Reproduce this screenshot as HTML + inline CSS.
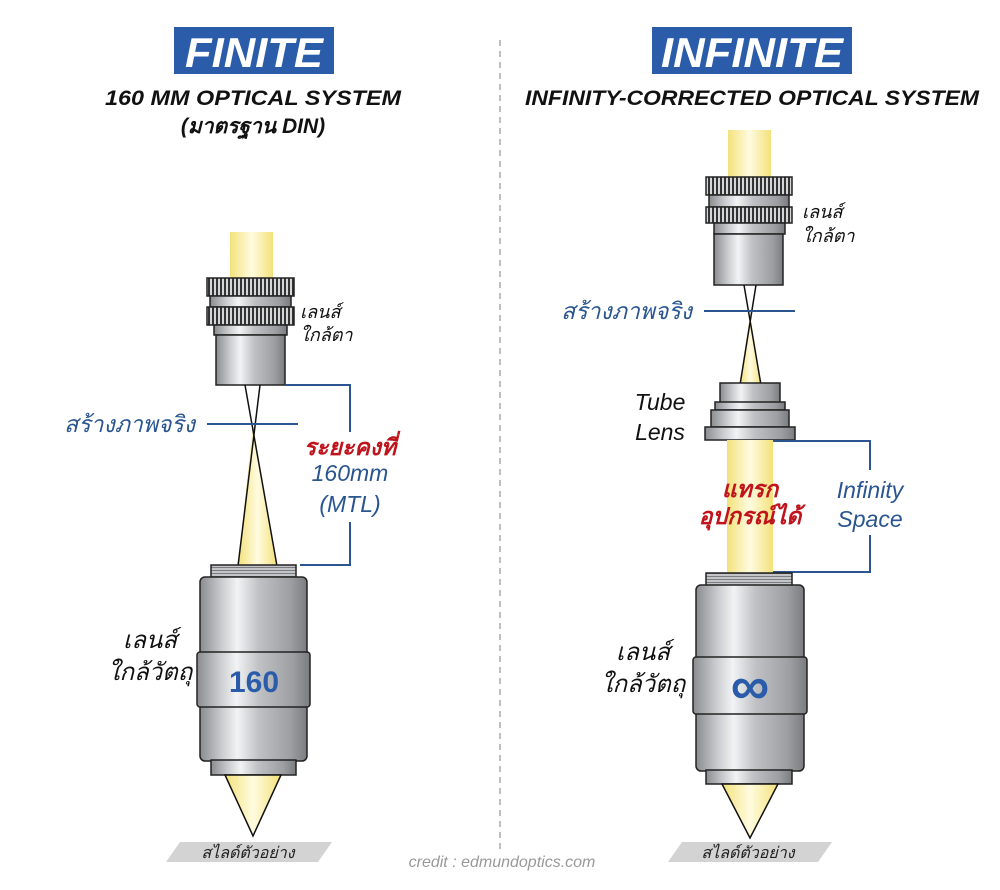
<!DOCTYPE html>
<html><head><meta charset="utf-8"><style>
html,body{margin:0;padding:0;background:#fff;}
svg{display:block;}
text{font-family:"Liberation Sans","DejaVu Sans",sans-serif;}
</style></head><body>
<svg width="1000" height="890" viewBox="0 0 1000 890" xmlns="http://www.w3.org/2000/svg">
<defs>
<linearGradient id="metal" x1="0" x2="1" y1="0" y2="0">
<stop offset="0" stop-color="#8a8c90"/><stop offset="0.2" stop-color="#c9cbce"/><stop offset="0.35" stop-color="#f2f3f4"/><stop offset="0.55" stop-color="#bfc1c4"/><stop offset="0.85" stop-color="#9c9ea2"/><stop offset="1" stop-color="#7a7c80"/>
</linearGradient>
<linearGradient id="beam" x1="0" x2="1" y1="0" y2="0">
<stop offset="0" stop-color="#f3e27a"/><stop offset="0.5" stop-color="#fffbe0"/><stop offset="1" stop-color="#f3e27a"/>
</linearGradient>
<pattern id="knurl" width="4" height="10" patternUnits="userSpaceOnUse">
<rect width="4" height="10" fill="#d5d6d8"/><rect width="2" height="10" fill="#333"/>
</pattern>
<pattern id="thread" width="10" height="3" patternUnits="userSpaceOnUse">
<rect width="10" height="3" fill="#c4c5c8"/><rect width="10" height="1" fill="#7a7c80"/>
</pattern>
</defs>

<line x1="500" y1="40" x2="500" y2="850" stroke="#aaa" stroke-width="1.5" stroke-dasharray="6,5"/>

<rect x="174" y="27" width="160" height="47" fill="#2a5caa"/>
<text x="254" y="67" text-anchor="middle" font-size="42" font-weight="bold" font-style="italic" fill="#fff" textLength="138" lengthAdjust="spacingAndGlyphs">FINITE</text>
<text x="253" y="105" text-anchor="middle" font-size="21" font-weight="bold" font-style="italic" fill="#111" textLength="296" lengthAdjust="spacingAndGlyphs">160 MM OPTICAL SYSTEM</text>
<text x="253" y="133" text-anchor="middle" font-size="21" font-weight="bold" font-style="italic" fill="#111">(มาตรฐาน DIN)</text>

<rect x="652" y="27" width="200" height="47" fill="#2a5caa"/>
<text x="752" y="67" text-anchor="middle" font-size="42" font-weight="bold" font-style="italic" fill="#fff" textLength="182" lengthAdjust="spacingAndGlyphs">INFINITE</text>
<text x="752" y="105" text-anchor="middle" font-size="21" font-weight="bold" font-style="italic" fill="#111" textLength="454" lengthAdjust="spacingAndGlyphs">INFINITY-CORRECTED OPTICAL SYSTEM</text>

<!-- LEFT -->
<rect x="230" y="232" width="43" height="48" fill="url(#beam)"/>
<rect x="207" y="278" width="87" height="18" fill="url(#knurl)" stroke="#222" stroke-width="1.5"/>
<rect x="210" y="296" width="81" height="11" fill="url(#metal)" stroke="#222" stroke-width="1.5"/>
<rect x="207" y="307" width="87" height="18" fill="url(#knurl)" stroke="#222" stroke-width="1.5"/>
<rect x="214" y="325" width="73" height="10" fill="url(#metal)" stroke="#222" stroke-width="1.5"/>
<rect x="216" y="335" width="69" height="50" fill="url(#metal)" stroke="#222" stroke-width="1.5"/>
<polygon points="253,422 238,566 277,566" fill="url(#beam)"/>
<line x1="245" y1="385" x2="277" y2="566" stroke="#111" stroke-width="1.5"/>
<line x1="260" y1="385" x2="238" y2="566" stroke="#111" stroke-width="1.5"/>
<line x1="207" y1="424" x2="298" y2="424" stroke="#2a5590" stroke-width="2"/>
<text x="195" y="432" text-anchor="end" font-size="23" font-style="italic" fill="#2a5590">สร้างภาพจริง</text>
<text x="300" y="318" font-size="18" font-style="italic" fill="#111">เลนส์</text>
<text x="300" y="341" font-size="18" font-style="italic" fill="#111">ใกล้ตา</text>
<polyline points="285,385 350,385 350,432" fill="none" stroke="#2a5590" stroke-width="2"/>
<polyline points="350,522 350,565 300,565" fill="none" stroke="#2a5590" stroke-width="2"/>
<text x="350" y="455" text-anchor="middle" font-size="23" font-weight="bold" font-style="italic" fill="#c0141c">ระยะคงที่</text>
<text x="350" y="481" text-anchor="middle" font-size="23" font-style="italic" fill="#2a5590">160mm</text>
<text x="350" y="512" text-anchor="middle" font-size="23" font-style="italic" fill="#2a5590">(MTL)</text>

<rect x="211" y="565" width="85" height="13" fill="url(#thread)" stroke="#222" stroke-width="1.5"/>
<rect x="200" y="577" width="107" height="184" rx="5" fill="url(#metal)" stroke="#222" stroke-width="1.5"/>
<rect x="197" y="652" width="113" height="55" rx="3" fill="url(#metal)" stroke="#222" stroke-width="1.5"/>
<text x="254" y="692" text-anchor="middle" font-size="30" font-weight="bold" fill="#2a5caa">160</text>
<rect x="211" y="760" width="85" height="15" fill="url(#metal)" stroke="#222" stroke-width="1.5"/>
<polygon points="225,775 281,775 253,836" fill="url(#beam)" stroke="#111" stroke-width="1.5"/>
<text x="150" y="648" text-anchor="middle" font-size="24" font-style="italic" fill="#111">เลนส์</text>
<text x="150" y="680" text-anchor="middle" font-size="24" font-style="italic" fill="#111">ใกล้วัตถุ</text>
<polygon points="180,842 332,842 318,862 166,862" fill="#d3d3d3"/>
<text x="248" y="858" text-anchor="middle" font-size="16" font-style="italic" fill="#222">สไลด์ตัวอย่าง</text>

<!-- RIGHT -->
<rect x="728" y="130" width="43" height="48" fill="url(#beam)"/>
<rect x="706" y="177" width="86" height="18" fill="url(#knurl)" stroke="#222" stroke-width="1.5"/>
<rect x="709" y="195" width="80" height="12" fill="url(#metal)" stroke="#222" stroke-width="1.5"/>
<rect x="706" y="207" width="86" height="16" fill="url(#knurl)" stroke="#222" stroke-width="1.5"/>
<rect x="714" y="223" width="71" height="11" fill="url(#metal)" stroke="#222" stroke-width="1.5"/>
<rect x="714" y="234" width="69" height="51" fill="url(#metal)" stroke="#222" stroke-width="1.5"/>
<polygon points="750,311 740,385 761,385" fill="url(#beam)"/>
<line x1="744" y1="285" x2="761" y2="385" stroke="#111" stroke-width="1.5"/>
<line x1="756" y1="285" x2="740" y2="385" stroke="#111" stroke-width="1.5"/>
<line x1="704" y1="311" x2="795" y2="311" stroke="#2a5590" stroke-width="2"/>
<text x="692" y="319" text-anchor="end" font-size="23" font-style="italic" fill="#2a5590">สร้างภาพจริง</text>
<text x="802" y="218" font-size="18" font-style="italic" fill="#111">เลนส์</text>
<text x="802" y="242" font-size="18" font-style="italic" fill="#111">ใกล้ตา</text>

<rect x="720" y="383" width="60" height="20" fill="url(#metal)" stroke="#222" stroke-width="1.5"/>
<rect x="715" y="402" width="70" height="8" fill="url(#metal)" stroke="#222" stroke-width="1.5"/>
<rect x="711" y="410" width="78" height="17" fill="url(#metal)" stroke="#222" stroke-width="1.5"/>
<rect x="705" y="427" width="90" height="13" fill="url(#metal)" stroke="#222" stroke-width="1.5"/>
<text x="660" y="410" text-anchor="middle" font-size="23" font-style="italic" fill="#111">Tube</text>
<text x="660" y="440" text-anchor="middle" font-size="23" font-style="italic" fill="#111">Lens</text>
<rect x="727" y="440" width="46" height="133" fill="url(#beam)"/>
<polyline points="773,441 870,441 870,470" fill="none" stroke="#2a5590" stroke-width="2"/>
<polyline points="870,535 870,572 773,572" fill="none" stroke="#2a5590" stroke-width="2"/>
<text x="870" y="498" text-anchor="middle" font-size="23" font-style="italic" fill="#2a5590">Infinity</text>
<text x="870" y="527" text-anchor="middle" font-size="23" font-style="italic" fill="#2a5590">Space</text>
<text x="750" y="497" text-anchor="middle" font-size="23" font-weight="bold" font-style="italic" fill="#c0141c">แทรก</text>
<text x="750" y="524" text-anchor="middle" font-size="23" font-weight="bold" font-style="italic" fill="#c0141c">อุปกรณ์ได้</text>

<rect x="706" y="573" width="86" height="13" fill="url(#thread)" stroke="#222" stroke-width="1.5"/>
<rect x="696" y="585" width="108" height="186" rx="5" fill="url(#metal)" stroke="#222" stroke-width="1.5"/>
<rect x="693" y="657" width="114" height="57" rx="3" fill="url(#metal)" stroke="#222" stroke-width="1.5"/>
<text x="750" y="704" text-anchor="middle" font-size="54" font-weight="bold" fill="#2a5caa">∞</text>
<rect x="706" y="770" width="86" height="14" fill="url(#metal)" stroke="#222" stroke-width="1.5"/>
<polygon points="722,784 778,784 750,838" fill="url(#beam)" stroke="#111" stroke-width="1.5"/>
<text x="643" y="660" text-anchor="middle" font-size="24" font-style="italic" fill="#111">เลนส์</text>
<text x="643" y="692" text-anchor="middle" font-size="24" font-style="italic" fill="#111">ใกล้วัตถุ</text>
<polygon points="682,842 832,842 818,862 668,862" fill="#d3d3d3"/>
<text x="748" y="858" text-anchor="middle" font-size="16" font-style="italic" fill="#222">สไลด์ตัวอย่าง</text>

<text x="502" y="867" text-anchor="middle" font-size="16" font-style="italic" fill="#999">credit : edmundoptics.com</text>
</svg>
</body></html>
